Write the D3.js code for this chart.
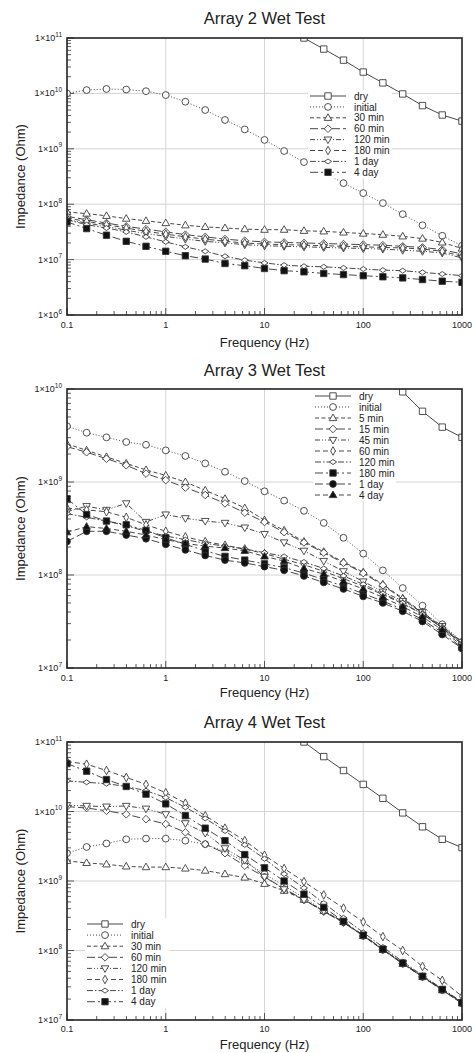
<!DOCTYPE html>
<html><head><meta charset="utf-8">
<script src="https://cdn.jsdelivr.net/npm/d3@7"></script>
<style>
body{margin:0;background:#fff}
svg{display:block}
text{font-family:"Liberation Sans",Arial,Helvetica,sans-serif;fill:#222}
</style>
</head><body>
<svg id="c" width="475" height="1053"></svg>
<script>
// ---------- DATA ----------
// Frequencies (Hz), 5 points per decade
const freqs = [0.1, 0.158, 0.251, 0.398, 0.631, 1, 1.58, 2.51, 3.98, 6.31, 10, 15.8, 25.1, 39.8, 63.1, 100, 158, 251, 398, 631, 1000];
const xTickLabels = ["0.1", "1", "10", "100", "1000"];

// Values are log10 of impedance (Ohm); null = not shown
// Array 2
const a2Labels = ["dry", "initial", "30 min", "60 min", "120 min", "180 min", "1 day", "4 day"];
const a2Dry     = [null, null, null, null, null, null, null, null, null, null, null, null, 11.0, 10.80, 10.60, 10.385, 10.19, 9.99, 9.78, 9.61, 9.50];
const a2Initial = [10.0, 10.06, 10.08, 10.07, 10.04, 9.97, 9.85, 9.70, 9.52, 9.35, 9.16, 8.96, 8.76, 8.57, 8.38, 8.20, 8.02, 7.82, 7.62, 7.43, 7.25];
const a2Min30   = [7.86, 7.83, 7.79, 7.74, 7.70, 7.66, 7.62, 7.59, 7.57, 7.55, 7.54, 7.54, 7.52, 7.51, 7.49, 7.47, 7.45, 7.42, 7.38, 7.31, 7.20];
const a2Min60   = [7.78, 7.72, 7.66, 7.60, 7.55, 7.50, 7.45, 7.41, 7.37, 7.34, 7.32, 7.31, 7.30, 7.29, 7.28, 7.27, 7.26, 7.24, 7.22, 7.18, 7.10];
const a2Min120  = [7.72, 7.66, 7.60, 7.53, 7.47, 7.42, 7.37, 7.33, 7.30, 7.27, 7.25, 7.24, 7.23, 7.22, 7.21, 7.20, 7.19, 7.17, 7.15, 7.12, 7.03];
const a2Min180  = [7.75, 7.69, 7.63, 7.57, 7.51, 7.46, 7.41, 7.37, 7.33, 7.30, 7.28, 7.27, 7.26, 7.25, 7.24, 7.23, 7.22, 7.21, 7.19, 7.15, 7.06];
const a2Day1    = [7.72, 7.63, 7.57, 7.50, 7.41, 7.32, 7.23, 7.15, 7.06, 6.99, 6.94, 6.90, 6.88, 6.87, 6.85, 6.83, 6.81, 6.80, 6.77, 6.74, 6.71];
const a2Day4    = [7.68, 7.56, 7.44, 7.33, 7.24, 7.15, 7.07, 7.01, 6.93, 6.89, 6.84, 6.80, 6.78, 6.75, 6.73, 6.71, 6.69, 6.67, 6.64, 6.61, 6.59];
const a2YTicks  = [6, 7, 8, 9, 10, 11];

// Array 3
const a3Labels = ["dry", "initial", "5 min", "15 min", "45 min", "60 min", "120 min", "180 min", "1 day", "4 day"];
const a3Dry     = [null, null, null, null, null, null, null, null, null, null, null, null, null, null, null, null, 10.18, 9.97, 9.76, 9.59, 9.48];
const a3Initial = [9.60, 9.53, 9.48, 9.43, 9.40, 9.34, 9.28, 9.20, 9.11, 9.01, 8.90, 8.80, 8.69, 8.56, 8.40, 8.23, 8.05, 7.86, 7.67, 7.47, 7.28];
const a3Min5    = [9.41, 9.34, 9.27, 9.20, 9.13, 9.07, 9.00, 8.91, 8.82, 8.72, 8.59, 8.48, 8.36, 8.25, 8.14, 8.03, 7.90, 7.75, 7.60, 7.44, 7.28];
const a3Min15   = [9.38, 9.32, 9.25, 9.18, 9.09, 9.02, 8.94, 8.86, 8.77, 8.67, 8.57, 8.46, 8.35, 8.24, 8.13, 8.02, 7.89, 7.74, 7.59, 7.43, 7.27];
const a3Min45   = [8.68, 8.74, 8.70, 8.77, 8.57, 8.65, 8.61, 8.58, 8.56, 8.51, 8.44, 8.35, 8.26, 8.15, 8.04, 7.93, 7.82, 7.72, 7.60, 7.45, 7.28];
const a3Min60   = [8.72, 8.70, 8.68, 8.62, 8.54, 8.47, 8.41, 8.36, 8.32, 8.28, 8.23, 8.17, 8.11, 8.04, 7.96, 7.88, 7.79, 7.69, 7.58, 7.43, 7.26];
const a3Min120  = [8.66, 8.62, 8.58, 8.53, 8.47, 8.42, 8.38, 8.34, 8.31, 8.28, 8.24, 8.20, 8.14, 8.07, 7.99, 7.90, 7.80, 7.70, 7.58, 7.43, 7.26];
const a3Min180  = [8.82, 8.65, 8.58, 8.54, 8.48, 8.40, 8.33, 8.26, 8.20, 8.16, 8.12, 8.08, 8.02, 7.95, 7.88, 7.80, 7.72, 7.63, 7.52, 7.38, 7.22];
const a3Day1    = [8.36, 8.47, 8.47, 8.43, 8.39, 8.33, 8.27, 8.21, 8.16, 8.13, 8.09, 8.05, 7.99, 7.92, 7.85, 7.77, 7.70, 7.61, 7.50, 7.36, 7.21];
const a3Day4    = [8.46, 8.52, 8.50, 8.47, 8.43, 8.38, 8.34, 8.31, 8.29, 8.26, 8.20, 8.15, 8.07, 8.01, 7.93, 7.85, 7.76, 7.66, 7.55, 7.41, 7.24];
const a3YTicks  = [7, 8, 9, 10];

// Array 4
const a4Labels = ["dry", "initial", "30 min", "60 min", "120 min", "180 min", "1 day", "4 day"];
const a4Dry     = [null, null, null, null, null, null, null, null, null, null, null, null, 11.0, 10.79, 10.59, 10.39, 10.19, 9.98, 9.78, 9.60, 9.48];
const a4Initial = [9.40, 9.49, 9.54, 9.60, 9.61, 9.61, 9.58, 9.53, 9.42, 9.28, 9.10, 8.93, 8.76, 8.57, 8.41, 8.21, 8.01, 7.81, 7.62, 7.43, 7.24];
const a4Min30   = [9.29, 9.26, 9.24, 9.21, 9.20, 9.20, 9.18, 9.15, 9.10, 9.05, 8.96, 8.86, 8.73, 8.57, 8.41, 8.21, 8.01, 7.81, 7.62, 7.43, 7.24];
const a4Min60   = [10.07, 10.05, 10.01, 9.96, 9.89, 9.82, 9.70, 9.53, 9.40, 9.22, 9.06, 8.89, 8.73, 8.56, 8.40, 8.21, 8.01, 7.81, 7.62, 7.43, 7.24];
const a4Min120  = [10.09, 10.08, 10.07, 10.08, 10.04, 9.96, 9.83, 9.69, 9.47, 9.30, 9.06, 8.88, 8.73, 8.57, 8.41, 8.22, 8.02, 7.82, 7.63, 7.44, 7.25];
const a4Min180  = [10.72, 10.68, 10.59, 10.49, 10.39, 10.27, 10.12, 9.94, 9.76, 9.58, 9.37, 9.18, 8.99, 8.80, 8.61, 8.41, 8.20, 8.00, 7.77, 7.57, 7.34];
const a4Day1    = [10.44, 10.42, 10.40, 10.36, 10.30, 10.20, 10.06, 9.90, 9.72, 9.52, 9.32, 9.10, 8.90, 8.68, 8.47, 8.26, 8.05, 7.84, 7.64, 7.45, 7.26];
const a4Day4    = [10.69, 10.58, 10.46, 10.36, 10.25, 10.11, 9.94, 9.76, 9.58, 9.38, 9.19, 9.00, 8.81, 8.62, 8.42, 8.22, 8.02, 7.82, 7.63, 7.44, 7.25];
const a4YTicks  = [7, 8, 9, 10, 11];

// ---------- STYLES ----------
const DASH = {
  solid: null, dot: "1,2", dash: "4,2.5", long: "8,3", ddd: "5,2,1,2,1,2",
  dash2: "5,3", dd: "6,2,1.5,2", ld: "8,3,2,3"
};
const SHAPES = {
  square: "M-3.2,-3.2h6.4v6.4h-6.4Z",
  circle: "M3.4,0A3.4,3.4,0,1,1,-3.4,0A3.4,3.4,0,1,1,3.4,0Z",
  triUp: "M0,-4L3.8,2.6L-3.8,2.6Z",
  triDown: "M0,4L3.8,-2.6L-3.8,-2.6Z",
  diamond: "M0,-3.8L3.8,0L0,3.8L-3.8,0Z",
  thin: "M0,-4.3L2.4,0L0,4.3L-2.4,0Z",
  small: "M0,-2.5L3.6,0L0,2.5L-3.6,0Z"
};
const st8 = [
  {shape: "square", fill: false, dash: "solid"},
  {shape: "circle", fill: false, dash: "dot"},
  {shape: "triUp", fill: false, dash: "dash"},
  {shape: "diamond", fill: false, dash: "long"},
  {shape: "triDown", fill: false, dash: "ddd"},
  {shape: "thin", fill: false, dash: "dash2"},
  {shape: "small", fill: false, dash: "dd"},
  {shape: "square", fill: true, dash: "ld"}
];
const st10 = [
  {shape: "square", fill: false, dash: "solid"},
  {shape: "circle", fill: false, dash: "dot"},
  {shape: "triUp", fill: false, dash: "dash"},
  {shape: "diamond", fill: false, dash: "long"},
  {shape: "triDown", fill: false, dash: "ddd"},
  {shape: "thin", fill: false, dash: "dash2"},
  {shape: "small", fill: false, dash: "dd"},
  {shape: "square", fill: true, dash: "ld"},
  {shape: "circle", fill: true, dash: "long"},
  {shape: "triUp", fill: true, dash: "dash2"}
];

const panels = [
  {title: "Array 2 Wet Test", titleY: 24, top: 38, bottom: 315, yTicks: a2YTicks,
   labels: a2Labels, series: [a2Dry, a2Initial, a2Min30, a2Min60, a2Min120, a2Min180, a2Day1, a2Day4],
   styles: st8, legend: {x: 310, y: 96, dy: 10.9, w: 84}, tickY: 328, xLabelY: 347},
  {title: "Array 3 Wet Test", titleY: 376, top: 389, bottom: 668, yTicks: a3YTicks,
   labels: a3Labels, series: [a3Dry, a3Initial, a3Min5, a3Min15, a3Min45, a3Min60, a3Min120, a3Min180, a3Day1, a3Day4],
   styles: st10, legend: {x: 315, y: 396, dy: 11.0, w: 83}, tickY: 681, xLabelY: 697},
  {title: "Array 4 Wet Test", titleY: 728, top: 742, bottom: 1020, yTicks: a4YTicks,
   labels: a4Labels, series: [a4Dry, a4Initial, a4Min30, a4Min60, a4Min120, a4Min180, a4Day1, a4Day4],
   styles: st8, legend: {x: 87, y: 924, dy: 11.1, w: 84}, tickY: 1032, xLabelY: 1049}
];

const L = 67, R = 462;
const svg = d3.select("#c");
const x = d3.scaleLog().domain([0.1, 1000]).range([L, R]);

panels.forEach((p, pi) => {
  const yMin = d3.min(p.yTicks), yMax = d3.max(p.yTicks);
  const y = d3.scaleLog().domain([Math.pow(10, yMin), Math.pow(10, yMax)]).range([p.bottom, p.top]);
  const g = svg.append("g");
  const clipId = "clip" + pi;
  svg.append("clipPath").attr("id", clipId).append("rect")
    .attr("x", L).attr("y", p.top).attr("width", R - L).attr("height", p.bottom - p.top);

  // grid
  const xMajors = [0.1, 1, 10, 100, 1000];
  g.selectAll(".gx").data(xMajors.slice(1, -1)).enter().append("line")
    .attr("x1", d => x(d)).attr("x2", d => x(d)).attr("y1", p.top).attr("y2", p.bottom)
    .attr("stroke", "#d4d4d4").attr("stroke-width", 1);
  g.selectAll(".gy").data(p.yTicks.slice(1, -1)).enter().append("line")
    .attr("x1", L).attr("x2", R).attr("y1", d => y(Math.pow(10, d))).attr("y2", d => y(Math.pow(10, d)))
    .attr("stroke", "#d4d4d4").attr("stroke-width", 1);

  // minor ticks bottom
  const xMinor = [];
  [-1, 0, 1, 2].forEach(e => { for (let k = 2; k <= 9; k++) xMinor.push(k * Math.pow(10, e)); });
  g.selectAll(".mtx").data(xMinor).enter().append("line")
    .attr("x1", d => x(d)).attr("x2", d => x(d)).attr("y1", p.bottom).attr("y2", p.bottom - 4)
    .attr("stroke", "#333").attr("stroke-width", 0.8);
  g.selectAll(".Mtx").data(xMajors).enter().append("line")
    .attr("x1", d => x(d)).attr("x2", d => x(d)).attr("y1", p.bottom).attr("y2", p.bottom - 7)
    .attr("stroke", "#333").attr("stroke-width", 0.8);
  // minor ticks left
  const yMinor = [];
  for (let e = yMin; e < yMax; e++) for (let k = 2; k <= 9; k++) yMinor.push(k * Math.pow(10, e));
  g.selectAll(".mty").data(yMinor).enter().append("line")
    .attr("x1", L).attr("x2", L + 4).attr("y1", d => y(d)).attr("y2", d => y(d))
    .attr("stroke", "#333").attr("stroke-width", 0.8);
  g.selectAll(".Mty").data(p.yTicks).enter().append("line")
    .attr("x1", L).attr("x2", L + 7).attr("y1", d => y(Math.pow(10, d))).attr("y2", d => y(Math.pow(10, d)))
    .attr("stroke", "#333").attr("stroke-width", 0.8);

  // series
  const plot = g.append("g").attr("clip-path", `url(#${clipId})`);
  const line = d3.line().defined(d => d[1] != null).x(d => x(d[0])).y(d => y(Math.pow(10, d[1])));
  p.series.forEach((s, si) => {
    const sty = p.styles[si];
    const pts = freqs.map((f, i) => [f, s[i]]);
    plot.append("path").datum(pts).attr("d", line).attr("fill", "none")
      .attr("stroke", "#333").attr("stroke-width", 0.9)
      .attr("stroke-dasharray", DASH[sty.dash]);
  });
  p.series.forEach((s, si) => {
    const sty = p.styles[si];
    const pts = freqs.map((f, i) => [f, s[i]]).filter(d => d[1] != null);
    plot.selectAll(null).data(pts).enter().append("path")
      .attr("d", SHAPES[sty.shape])
      .attr("transform", d => `translate(${x(d[0])},${y(Math.pow(10, d[1]))})`)
      .attr("fill", sty.fill ? "#111" : "#fff").attr("stroke", "#333").attr("stroke-width", 0.85);
  });

  // frame
  g.append("rect").attr("x", L).attr("y", p.top).attr("width", R - L).attr("height", p.bottom - p.top)
    .attr("fill", "none").attr("stroke", "#222").attr("stroke-width", 1.6);

  // y tick labels
  p.yTicks.forEach(e => {
    const t = g.append("text").attr("x", 62).attr("y", y(Math.pow(10, e)) + 3)
      .attr("text-anchor", "end").attr("font-size", 9);
    t.append("tspan").text("1×10");
    t.append("tspan").attr("dy", -4.5).attr("font-size", 6.5).text(String(e));
  });
  // x tick labels
  xMajors.forEach((v, i) => {
    g.append("text").attr("x", x(v)).attr("y", p.tickY).attr("text-anchor", "middle")
      .attr("font-size", 9).text(xTickLabels[i]);
  });
  // titles
  g.append("text").attr("x", (L + R) / 2).attr("y", p.titleY).attr("text-anchor", "middle")
    .attr("font-size", 16.5).text(p.title);
  g.append("text").attr("x", (L + R) / 2).attr("y", p.xLabelY).attr("text-anchor", "middle")
    .attr("font-size", 13).text("Frequency (Hz)");
  g.append("text").attr("transform", `translate(25,${(p.top + p.bottom) / 2}) rotate(-90)`)
    .attr("text-anchor", "middle").attr("font-size", 13).text("Impedance (Ohm)");

  // legend
  const lg = p.legend;
  const leg = g.append("g");
  leg.append("rect").attr("x", lg.x - 2).attr("y", lg.y - 6).attr("width", lg.w)
    .attr("height", lg.dy * (p.labels.length - 1) + 12).attr("fill", "#fff");
  p.labels.forEach((lab, i) => {
    const sty = p.styles[i];
    const yy = lg.y + i * lg.dy;
    leg.append("line").attr("x1", lg.x).attr("x2", lg.x + 36).attr("y1", yy).attr("y2", yy)
      .attr("stroke", "#333").attr("stroke-width", 0.9).attr("stroke-dasharray", DASH[sty.dash]);
    leg.append("path").attr("d", SHAPES[sty.shape]).attr("transform", `translate(${lg.x + 18},${yy})`)
      .attr("fill", sty.fill ? "#111" : "#fff").attr("stroke", "#333").attr("stroke-width", 0.85);
    leg.append("text").attr("x", lg.x + 44).attr("y", yy + 3.6).attr("font-size", 10).text(lab);
  });
});
</script>
</body></html>
